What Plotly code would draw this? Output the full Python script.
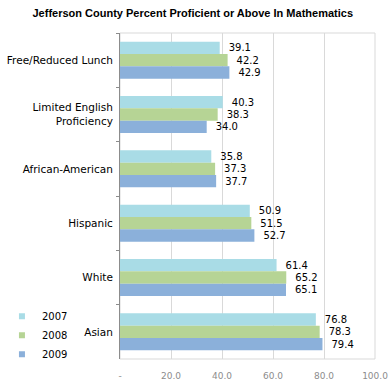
import plotly.graph_objects as go

categories = ["Free/Reduced Lunch", "Limited English<br>Proficiency", "African-American",
              "Hispanic", "White", "Asian"]
years = ["2007", "2008", "2009"]
v2007 = [39.1, 40.3, 35.8, 50.9, 61.4, 76.8]
v2008 = [42.2, 38.3, 37.3, 51.5, 65.2, 78.3]
v2009 = [42.9, 34.0, 37.7, 52.7, 65.1, 79.4]
series = [v2007, v2008, v2009]
colors = ["#a9dce6", "#b6d495", "#8bb0da"]
tick_vals = [0, 20, 40, 60, 80, 100]
tick_text = ["-", "20.0", "40.0", "60.0", "80.0", "100.0"]
title = "Jefferson County Percent Proficient or Above In Mathematics"

FONT = "DejaVu Sans"
fig = go.Figure()
for name, vals, col in zip(years, series, colors):
    fig.add_trace(go.Bar(
        y=categories, x=vals, orientation="h", name=name,
        marker=dict(color=col, line=dict(width=0)),
        text=[f"\u2002\u200a{v:.1f}" for v in vals], textposition="outside",
        textfont=dict(family=FONT, size=10, color="#000000"),
        cliponaxis=False, showlegend=False,
    ))
for name, col in zip(years, colors):
    fig.add_trace(go.Scatter(
        x=[None], y=[None], mode="markers", name=name,
        marker=dict(symbol="square", size=6, color=col),
    ))

fig.update_layout(
    width=391, height=383,
    margin=dict(l=120, r=16, t=33, b=24, autoexpand=False),
    paper_bgcolor="white", plot_bgcolor="white",
    barmode="group", bargap=0.32, bargroupgap=0,
    title=dict(text=title, x=0.493, xanchor="center", y=0.966, yanchor="middle",
               font=dict(family="Liberation Sans", size=11, color="#000000", weight="bold")),
    font=dict(family=FONT, size=10, color="#000000"),
    legend=dict(xref="container", yref="container", x=0.005, xanchor="left",
                y=0.212, yanchor="top",
                font=dict(family=FONT, size=10, color="#000000"),
                itemwidth=30, tracegroupgap=0, bgcolor="rgba(0,0,0,0)"),
    xaxis=dict(range=[0, 100], tickvals=tick_vals, ticktext=tick_text,
               showgrid=True, gridcolor="#d9d9d9", gridwidth=1,
               zeroline=False, showline=False, ticks="", automargin=False,
               ticklabelstandoff=10,
               tickfont=dict(family=FONT, size=9, color="#8c8c8c")),
    yaxis=dict(autorange="reversed", showline=True, linecolor="#8c8c8c", linewidth=1,
               ticks="outside", tickson="boundaries", ticklen=3, tickcolor="#8c8c8c",
               showgrid=False, zeroline=False, automargin=False, ticklabelstandoff=4,
               tickfont=dict(family=FONT, size=10.5, color="#000000")),
    shapes=[dict(type="rect", xref="paper", yref="paper", x0=0, x1=1, y0=0, y1=1,
                 line=dict(color="#d9d9d9", width=1), layer="below")],
)
fig.write_html("out.html", config={"displayModeBar": False},
               post_script="document.body.style.margin='0';document.body.style.overflow='hidden';")
